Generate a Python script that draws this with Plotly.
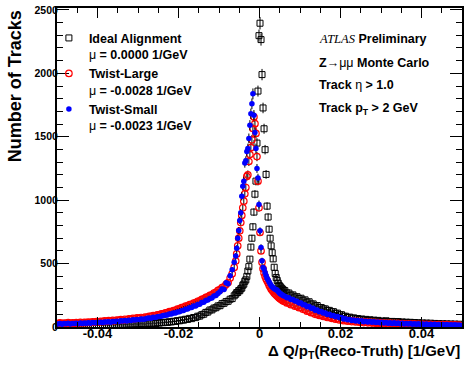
import numpy as np
import plotly.graph_objects as go

# ---------------- data ----------------
# bin centres in 1/GeV: left tail (0.0005 wide), core (0.00025 wide), right tail (0.0005 wide)
left_start, left_step, n_left = -0.04975, 0.0005, 88
core_start, core_step, n_core = -0.005875, 0.00025, 48
right_start, right_step, n_right = 0.00625, 0.0005, 88

ideal_counts = [
    # left tail -0.04975 .. -0.00625
    9, 6, 11, 8, 10, 12, 7, 10,
    9, 13, 10, 8, 12, 11, 10, 14,
    11, 13, 15, 11, 14, 16, 12, 15,
    17, 13, 16, 18, 15, 19, 17, 20,
    17, 21, 19, 23, 22, 20, 25, 23,
    24, 27, 25, 23, 29, 28, 26, 31,
    28, 33, 31, 35, 34, 38, 36, 41,
    40, 45, 44, 50, 49, 55, 54, 61,
    60, 68, 66, 75, 74, 85, 86, 97,
    101, 115, 118, 134, 135, 149, 152, 166,
    168, 184, 187, 200, 203, 219, 224, 246,
    # core -0.005875 .. 0.005875
    258, 271, 272, 287, 286, 301, 307, 329,
    338, 360, 372, 399, 441, 476, 535, 630,
    700, 790, 906, 1047, 1150, 1450, 1860, 2297,
    2395, 2266, 1990, 1727, 1563, 1398, 1203, 953,
    867, 771, 700, 640, 586, 537, 471, 422,
    390, 367, 345, 328, 318, 308, 300, 292,
    # right tail 0.00625 .. 0.04975
    287, 269, 268, 251, 253, 236, 239, 224,
    227, 211, 214, 196, 199, 181, 182, 166,
    169, 154, 153, 143, 143, 131, 131, 120,
    121, 108, 109, 96, 97, 85, 85, 75,
    78, 69, 72, 63, 67, 59, 63, 55,
    60, 52, 57, 49, 54, 47, 52, 45,
    46, 44, 49, 41, 43, 44, 40, 42,
    42, 35, 40, 33, 38, 32, 37, 30,
    35, 28, 34, 27, 32, 26, 31, 24,
    30, 23, 28, 22, 27, 20, 26, 19,
    25, 18, 24, 17, 23, 16, 22, 15,
]

twist_large_counts = [
    # left tail
    27, 33, 26, 31, 28, 34, 27, 32,
    30, 35, 31, 36, 32, 37, 34, 39,
    35, 41, 38, 43, 39, 45, 42, 48,
    44, 50, 46, 52, 49, 55, 52, 58,
    54, 61, 57, 64, 61, 68, 65, 72,
    68, 75, 72, 79, 77, 84, 83, 90,
    88, 96, 96, 103, 104, 112, 113, 121,
    121, 130, 132, 141, 143, 152, 155, 164,
    166, 176, 179, 189, 192, 203, 206, 218,
    221, 233, 237, 250, 254, 268, 273, 288,
    294, 310, 317, 336, 351, 386, 419, 470,
    # core
    520, 576, 640, 700, 758, 823, 880, 940,
    992, 1050, 1100, 1187, 1200, 1305, 1360, 1414,
    1476, 1565, 1656, 1603, 1526, 1344, 1150, 940,
    745, 600, 510, 460, 425, 400, 380, 365,
    348, 330, 315, 300, 290, 280, 268, 260,
    252, 244, 236, 228, 222, 216, 210, 204,
    # right tail
    201, 190, 190, 176, 178, 164, 165, 152,
    153, 139, 139, 125, 126, 113, 113, 100,
    102, 91, 94, 83, 86, 75, 78, 68,
    71, 61, 65, 55, 59, 50, 55, 46,
    51, 43, 48, 40, 45, 37, 42, 35,
    40, 33, 38, 31, 36, 29, 34, 28,
    33, 27, 31, 25, 30, 24, 29, 22,
    28, 21, 26, 20, 25, 19, 24, 18,
    24, 17, 23, 16, 22, 15, 21, 15,
    20, 14, 19, 13, 19, 13, 18, 12,
    18, 12, 17, 11, 16, 11, 15, 10,
]

twist_small_counts = [
    # left tail
    24, 28, 22, 27, 25, 29, 23, 27,
    27, 30, 26, 31, 28, 32, 29, 34,
    30, 35, 33, 34, 36, 38, 35, 40,
    39, 42, 38, 44, 43, 46, 43, 49,
    47, 51, 48, 54, 51, 57, 56, 60,
    57, 63, 62, 64, 68, 70, 69, 76,
    74, 80, 82, 84, 90, 93, 94, 102,
    102, 110, 111, 119, 120, 129, 131, 140,
    141, 151, 153, 165, 166, 177, 180, 193,
    196, 209, 212, 225, 229, 244, 249, 265,
    278, 300, 296, 348, 340, 405, 452, 510,
    # core
    560, 620, 700, 760, 840, 900, 1030, 1110,
    1150, 1292, 1310, 1383, 1408, 1487, 1591, 1681,
    1760, 1838, 1670, 1533, 1408, 1250, 1174, 966,
    758, 627, 523, 470, 458, 430, 406, 385,
    370, 355, 341, 328, 318, 310, 303, 298,
    293, 289, 280, 270, 262, 258, 252, 246,
    # right tail
    243, 230, 231, 217, 216, 204, 203, 189,
    189, 175, 174, 160, 161, 147, 147, 133,
    134, 121, 122, 110, 111, 99, 101, 90,
    91, 80, 82, 72, 74, 64, 66, 57,
    60, 52, 56, 48, 52, 44, 49, 41,
    46, 39, 44, 37, 42, 35, 40, 33,
    38, 32, 36, 30, 34, 28, 33, 27,
    31, 25, 30, 24, 28, 23, 27, 22,
    26, 21, 25, 20, 24, 19, 23, 18,
    22, 17, 21, 16, 20, 16, 19, 15,
    19, 14, 18, 14, 17, 13, 16, 12,
]

series_names = [
    "<b>Ideal Alignment</b><br>\u03bc<b> = 0.0000 1/GeV</b>",
    "<b>Twist-Large</b><br>\u03bc<b> = -0.0028 1/GeV</b>",
    "<b>Twist-Small</b><br>\u03bc<b> = -0.0023 1/GeV</b>",
]

x_tick_vals = [-0.04, -0.02, 0.0, 0.02, 0.04]
x_tick_text = ["-0.04", "-0.02", "0", "0.02", "0.04"]
y_tick_vals = [0, 500, 1000, 1500, 2000, 2500]
y_tick_text = ["0", "500", "1000", "1500", "2000", "2500"]

# ---------------- figure ----------------
x_bins = np.concatenate([
    left_start + left_step * np.arange(n_left),
    core_start + core_step * np.arange(n_core),
    right_start + right_step * np.arange(n_right),
])

FONT = "Liberation Sans, Arial, Helvetica, sans-serif"

styles = [
    dict(symbol="square-open", size=6, color="black", line=dict(width=1, color="black")),
    dict(symbol="circle-open", size=6.5, color="#ff0000", line=dict(width=1.2, color="#ff0000")),
    dict(symbol="circle", size=5.5, color="#0000ff", line=dict(width=0)),
]
data = [ideal_counts, twist_large_counts, twist_small_counts]

fig = go.Figure()
for i, (counts, name, st) in enumerate(zip(data, series_names, styles)):
    y = np.array(counts, dtype=float)
    assert len(y) == len(x_bins), (i, len(y))
    fig.add_trace(go.Scatter(
        x=x_bins, y=y, mode="markers", name=name, legendgroup=f"g{i}",
        marker=st,
        error_y=dict(type="data", array=np.sqrt(y), thickness=1, width=0, color="black"),
    ))

axis_common = dict(
    showline=True, linewidth=2, linecolor="black", mirror="allticks",
    ticks="inside", tickcolor="black", tickwidth=1,
    showgrid=False, zeroline=False,
)

fig.update_xaxes(
    range=[-0.05, 0.05], tickmode="array", tickvals=x_tick_vals, ticktext=x_tick_text,
    ticklen=10, ticklabelstandoff=-7,
    tickfont=dict(family=FONT, size=13, color="black", weight="bold"),
    minor=dict(ticks="inside", ticklen=5, dtick=0.005, tick0=0, tickcolor="black", tickwidth=1),
    **axis_common,
)
fig.update_yaxes(
    range=[0, 2515], tickmode="array", tickvals=y_tick_vals, ticktext=y_tick_text,
    ticklen=12, ticklabelstandoff=-5,
    tickfont=dict(family=FONT, size=10.5, color="black", weight="bold"),
    minor=dict(ticks="inside", ticklen=6, dtick=100, tick0=0, tickcolor="black", tickwidth=1),
    **axis_common,
)

ann_font = dict(family=FONT, size=12.5, color="black")
annotations = [
    dict(text="<b>Number of Tracks</b>", textangle=-90, xref="paper", yref="paper",
         x=-0.103, y=1.0, xanchor="center", yanchor="top", showarrow=False,
         font=dict(family=FONT, size=18, color="black")),
    dict(text="<b>\u0394 Q/p<sub>T</sub>(Reco-Truth) [1/GeV]</b>", xref="paper", yref="paper",
         x=1.0, y=-0.076, xanchor="right", yanchor="middle", showarrow=False,
         font=dict(family=FONT, size=15, color="black")),
    dict(text="<span style=\"font-family:'Liberation Serif',serif;font-style:italic\">ATLAS</span> <b>Preliminary</b>",
         xref="paper", yref="paper", x=0.641, y=0.904, xanchor="left", yanchor="middle",
         showarrow=False, font=ann_font),
    dict(text="<b>Z</b>\u2192\u03bc\u03bc<b> Monte Carlo</b>",
         xref="paper", yref="paper", x=0.641, y=0.829, xanchor="left", yanchor="middle",
         showarrow=False, font=ann_font),
    dict(text="<b>Track</b> \u03b7 <b>&gt; 1.0</b>",
         xref="paper", yref="paper", x=0.641, y=0.758, xanchor="left", yanchor="middle",
         showarrow=False, font=ann_font),
    dict(text="<b>Track p<sub>T</sub> &gt; 2 GeV</b>",
         xref="paper", yref="paper", x=0.641, y=0.682, xanchor="left", yanchor="middle",
         showarrow=False, font=ann_font),
]

fig.update_layout(
    width=468, height=369,
    margin=dict(l=57, r=4, t=5, b=42),
    paper_bgcolor="white", plot_bgcolor="white",
    font=dict(family=FONT, color="black"),
    showlegend=True,
    legend=dict(x=-0.02, y=0.952, xanchor="left", yanchor="top", valign="top",
                bgcolor="rgba(0,0,0,0)", borderwidth=0, tracegroupgap=0,
                font=dict(family=FONT, size=12.5, color="black")),
    annotations=annotations,
)

fig.write_html("out.html", config={"displayModeBar": False},
               post_script="document.body.style.margin='0px';")
